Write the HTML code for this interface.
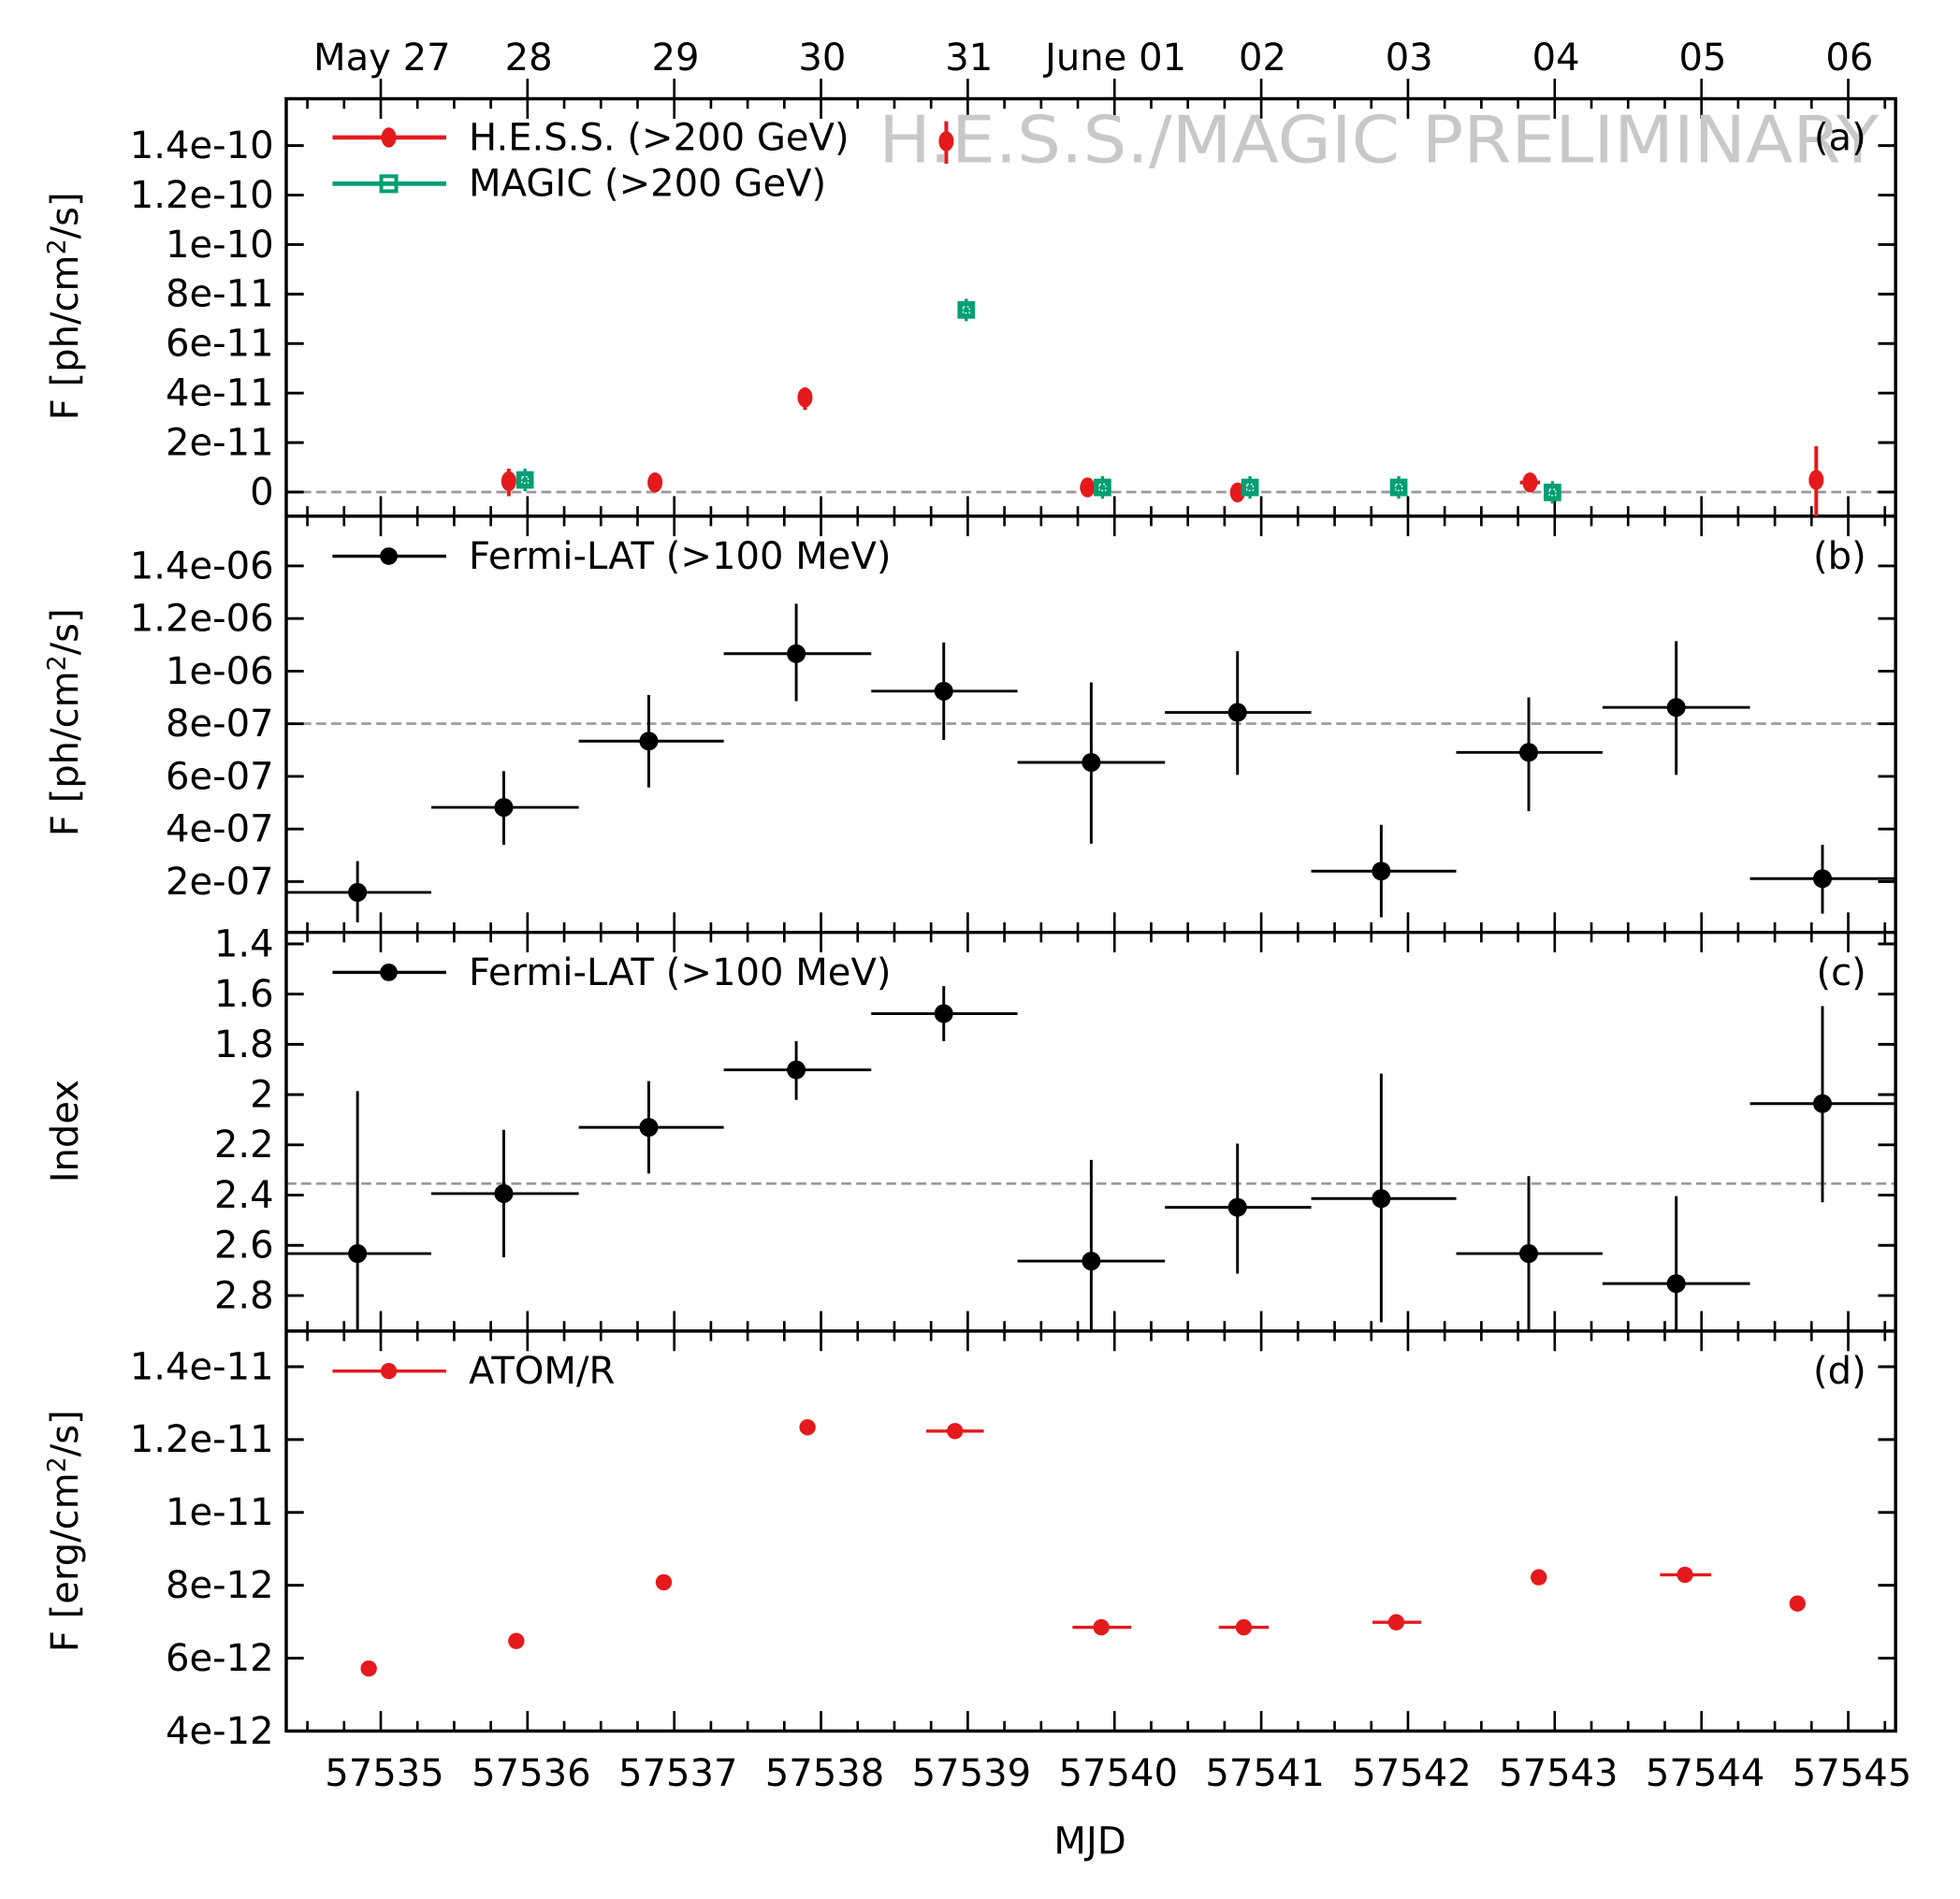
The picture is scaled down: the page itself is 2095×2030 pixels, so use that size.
<!DOCTYPE html>
<html><head><meta charset="utf-8"><style>
html,body{margin:0;padding:0;background:#fff}
svg{display:block}
text{font-family:"DejaVu Sans","Liberation Sans",sans-serif;fill:#000}
</style></head><body>
<svg id="s" xmlns="http://www.w3.org/2000/svg" width="2095" height="2030" viewBox="0 0 1568 1519.4"></svg>
<script>
var s=document.getElementById('s'),o='';
var L=229,R=1516.5,T=79,B=[413,746,1065,1385];
var X0=304.6,DX=117.4;
function mx(m){return X0+(m-57535)*DX;}
function ln(x1,y1,x2,y2,c,w,extra){o+='<line x1="'+x1+'" y1="'+y1+'" x2="'+x2+'" y2="'+y2+'" stroke="'+c+'" stroke-width="'+w+'" '+(extra||'')+'/>';}
function tx(x,y,t,a,sz,extra){o+='<text x="'+x+'" y="'+y+'" font-size="'+(sz||30)+'" text-anchor="'+(a||'middle')+'" '+(extra||'')+'>'+t+'</text>';}
var tops=[T,B[0],B[1],B[2]],bots=B;
ln(L,393.7,R,393.7,'#999',2,'stroke-dasharray="8,4"');
ln(L,579,R,579,'#999',2,'stroke-dasharray="8,4"');
ln(L,947,R,947,'#999',2,'stroke-dasharray="8,4"');
for(var p=0;p<4;p++){
 for(var m=57534.5;m<=57545.4;m+=0.25){
  var x=mx(m); if(x<L+1||x>R-1)continue;
  var maj=Math.abs(m-Math.round(m))<0.01, len=maj?16:8;
  ln(x,tops[p],x,tops[p]+len,'#000',2);
  ln(x,bots[p],x,bots[p]-len,'#000',2);
 }
}
var dl=['May 27','28','29','30','31','June 01','02','03','04','05','06'];
for(var i=0;i<=10;i++){var x=mx(57535+i);ln(x,T,x,T-16,'#000',2);tx(x+1,56,dl[i]);tx(x+3,1429,String(57535+i));}
tx(872,1483,'MJD');
function yt(y,lab){ln(L,y,L+14,y,'#000',2.2);ln(R,y,R-14,y,'#000',2.2);tx(L-10,y+10,lab,'end');}
var la=['0','2e-11','4e-11','6e-11','8e-11','1e-10','1.2e-10','1.4e-10'];
for(var i=0;i<8;i++)yt(393.7-i*39.6,la[i]);
var lb=['2e-07','4e-07','6e-07','8e-07','1e-06','1.2e-06','1.4e-06'];
for(var i=0;i<7;i++)yt(705.4-i*42.1,lb[i]);
var lc=['1.4','1.6','1.8','2','2.2','2.4','2.6','2.8'];
for(var i=0;i<8;i++)yt(755.2+i*40.2,lc[i]);
var ld=['4e-12','6e-12','8e-12','1e-11','1.2e-11','1.4e-11'];
for(var i=0;i<6;i++)yt(1385-i*58.3,ld[i]);
o+='<rect x="'+L+'" y="'+T+'" width="'+(R-L)+'" height="'+(1385-T)+'" fill="none" stroke="#000" stroke-width="2.6"/>';
for(var i=0;i<3;i++)ln(L,B[i],R,B[i],'#000',2.6);
function yl(y,t){tx(62,y,t,'middle',30,'transform="rotate(-90 62 '+y+')"');}
yl(245,'F [ph/cm<tspan dy="-10" font-size="20">2</tspan><tspan dy="10">/s]</tspan>');
yl(578,'F [ph/cm<tspan dy="-10" font-size="20">2</tspan><tspan dy="10">/s]</tspan>');
yl(905,'Index');
yl(1225,'F [erg/cm<tspan dy="-10" font-size="20">2</tspan><tspan dy="10">/s]</tspan>');
tx(703,130,'H.E.S.S./MAGIC PRELIMINARY','start',52,'style="fill:#c8c8c8" textLength="800" lengthAdjust="spacingAndGlyphs"');
tx(1493,120,'(a)','end');tx(1493,455,'(b)','end');tx(1493,788,'(c)','end');tx(1493,1107,'(d)','end');
var RED='#e41a1c',GRN='#009e73';
ln(266,110,357,110,RED,3.5);o+='<ellipse cx="311" cy="110" rx="6" ry="8" fill="'+RED+'"/>';tx(375,120,'H.E.S.S. (&gt;200 GeV)','start');
ln(266,147,357,147,GRN,3.5);o+='<rect x="305" y="141" width="12" height="12" fill="none" stroke="'+GRN+'" stroke-width="3"/>';tx(375,157,'MAGIC (&gt;200 GeV)','start');
ln(266,445,357,445,'#000',2.5);o+='<circle cx="311" cy="445" r="7"/>';tx(375,455,'Fermi-LAT (&gt;100 MeV)','start');
ln(266,778,357,778,'#000',2.5);o+='<circle cx="311" cy="778" r="7"/>';tx(375,788,'Fermi-LAT (&gt;100 MeV)','start');
ln(266,1097,357,1097,RED,2.5);o+='<circle cx="311" cy="1097" r="6.5" fill="'+RED+'"/>';tx(375,1107,'ATOM/R','start');
var H=[[407,385,375,397],[524,386,380,392],[644,318,310,328],[757,113,97,131],[870,390,386,394,864,882],[990,394,390,398],[1224,386,382,390,1216,1232],[1453,384,357,413]];
H.forEach(function(d){ln(d[0],d[2],d[0],d[3],RED,3);if(d[4])ln(d[4],d[1],d[5],d[1],RED,3);o+='<ellipse cx="'+d[0]+'" cy="'+d[1]+'" rx="6" ry="8" fill="'+RED+'"/>';});
var M=[[420,384],[773,248],[882,390],[1000,390],[1119,390],[1242,394]];
M.forEach(function(d){ln(d[0],d[1]-9,d[0],d[1]+9,GRN,2.5);o+='<rect x="'+(d[0]-7)+'" y="'+(d[1]-7)+'" width="14" height="14" fill="'+GRN+'"/><rect x="'+(d[0]-2.5)+'" y="'+(d[1]-2.5)+'" width="5" height="5" fill="none" stroke="#fff" stroke-width="1" stroke-dasharray="1.5,1.5"/>';});
var Fb=[[286,714,229,345,689,738],[403,646,345,463,617,676],[519,593,463,579,556,630],[637,523,579,697,483,561],[755,553,697,814,514,592],[873,610,814,932,546,675],[990,570,932,1049,521,620],[1105,697,1049,1165,660,734],[1223,602,1165,1282,558,649],[1341,566,1282,1400,513,620],[1458,703,1400,1517,676,731]];
var Fc=[[286,1003,229,345,873,1065],[403,955,345,463,904,1006],[519,902,463,579,865,939],[637,856,579,697,833,880],[755,811,697,814,789,833],[873,1009,814,932,928,1065],[990,966,932,1049,915,1019],[1105,959,1049,1165,859,1058],[1223,1003,1165,1282,941,1065],[1341,1027,1282,1400,957,1065],[1458,883,1400,1517,805,962]];
Fb.concat(Fc).forEach(function(d){ln(d[2],d[1],d[3],d[1],'#000',2.2);ln(d[0],d[4],d[0],d[5],'#000',2.2);o+='<circle cx="'+d[0]+'" cy="'+d[1]+'" r="7.5"/>';});
var A=[[295,1335],[413,1313],[531,1266],[646,1142],[764,1145,741,787],[881,1302,858,905],[995,1302,975,1015],[1117,1298,1098,1137],[1231,1262],[1348,1260,1328,1369],[1438,1283]];
A.forEach(function(d){if(d[2])ln(d[2],d[1],d[3],d[1],RED,2.5);o+='<circle cx="'+d[0]+'" cy="'+d[1]+'" r="6.5" fill="'+RED+'"/>';});
s.innerHTML=o;
</script>
</body></html>
